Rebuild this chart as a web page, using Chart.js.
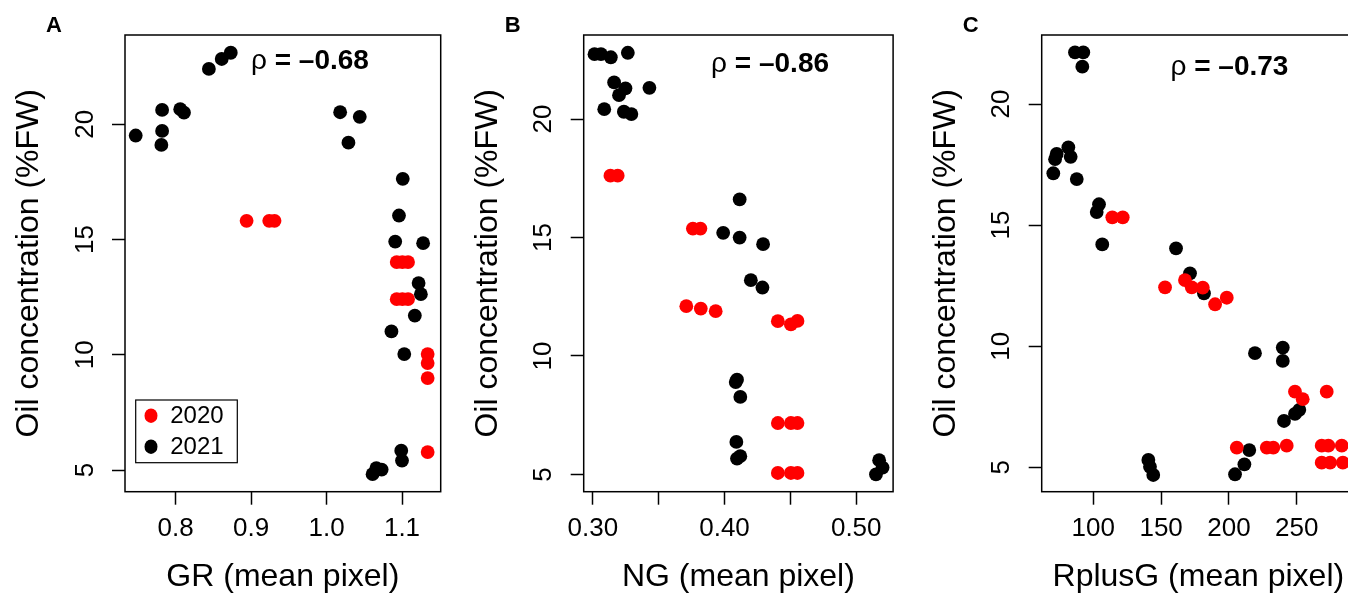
<!DOCTYPE html>
<html>
<head>
<meta charset="utf-8">
<title>Oil concentration vs colour indices</title>
<script src="https://cdn.jsdelivr.net/npm/chart.js@4.4.0/dist/chart.umd.min.js"></script>
<style>
  html, body { margin: 0; padding: 0; background: #fff; overflow: hidden; }
  #wrap { position: relative; width: 1348px; height: 596px; overflow: hidden; }
  .panel { position: absolute; top: 0; height: 596px; }
</style>
</head>
<body>
<div id="wrap">
  <div class="panel" style="left:0px"><canvas id="chartA" width="450" height="596"></canvas></div>
  <div class="panel" style="left:450px"><canvas id="chartB" width="450" height="596"></canvas></div>
  <div class="panel" style="left:900px"><canvas id="chartC" width="470" height="596"></canvas></div>
</div>
<script>
//フォント
var FONT = "'Liberation Sans', Arial, sans-serif";

//パネルA: GR
var grX2020 = [0.894, 0.924, 0.931, 1.093, 1.1005, 1.108, 1.093, 1.1005, 1.108, 1.134, 1.134, 1.134, 1.134];
var grY2020 = [15.81, 15.81, 15.81, 14.02, 14.02, 14.02, 12.41, 12.41, 12.41, 10.03, 9.64, 8.99, 5.78];
var grX2021 = [0.747, 0.782, 0.782, 0.781, 0.806, 0.811, 0.844, 0.861, 0.873, 1.018, 1.044, 1.029, 1.101, 1.096, 1.091, 1.128, 1.122, 1.125, 1.117, 1.086, 1.103, 1.061, 1.066, 1.073, 1.099, 1.100];
var grY2021 = [19.51, 20.62, 19.71, 19.10, 20.65, 20.50, 22.40, 22.83, 23.10, 20.52, 20.32, 19.20, 17.63, 16.04, 14.91, 14.84, 13.11, 12.63, 11.70, 11.01, 10.03, 4.82, 5.08, 5.02, 5.84, 5.41];

//パネルB: NG
var ngX2020 = [0.3134, 0.3189, 0.376, 0.3817, 0.371, 0.382, 0.3933, 0.4405, 0.4504, 0.4554, 0.4405, 0.4504, 0.4554, 0.4405, 0.4504, 0.4554];
var ngY2020 = [17.61, 17.61, 15.38, 15.38, 12.10, 12.00, 11.89, 11.47, 11.33, 11.48, 7.17, 7.17, 7.17, 5.06, 5.06, 5.06];
var ngX2021 = [0.3013, 0.3062, 0.3137, 0.3266, 0.3162, 0.3248, 0.3199, 0.343, 0.3087, 0.3236, 0.3293, 0.4115, 0.399, 0.4115, 0.4293, 0.420, 0.4288, 0.4095, 0.4085, 0.412, 0.409, 0.4095, 0.412, 0.515, 0.5174, 0.520];
var ngY2021 = [22.74, 22.74, 22.61, 22.80, 21.55, 21.30, 21.01, 21.32, 20.42, 20.31, 20.21, 16.61, 15.20, 15.00, 14.72, 13.20, 12.89, 9.00, 8.90, 8.27, 6.37, 5.67, 5.77, 5.00, 5.60, 5.29];

//パネルC: RplusG
var rgX2020 = [114.0, 121.7, 152.9, 167.6, 172.6, 180.7, 198.4, 189.8, 248.7, 254.4, 272.1, 205.8, 227.9, 232.7, 242.6, 268.4, 273.3, 283.2, 268.4, 274.6, 284.0];
var rgY2020 = [15.32, 15.32, 12.43, 12.73, 12.43, 12.42, 12.00, 11.73, 8.12, 7.81, 8.12, 5.81, 5.81, 5.81, 5.89, 5.89, 5.89, 5.89, 5.19, 5.19, 5.19];
var rgX2021 = [86.5, 92.6, 91.9, 70.5, 71.8, 73.0, 81.6, 83.3, 87.8, 104.2, 102.5, 106.6, 161.0, 171.3, 181.6, 219.2, 239.7, 239.7, 240.6, 248.7, 251.9, 140.6, 141.8, 144.2, 204.5, 211.4, 215.0];
var rgY2021 = [22.13, 22.13, 21.54, 17.14, 17.72, 17.94, 18.21, 17.82, 16.90, 15.86, 15.54, 14.20, 14.04, 13.01, 12.18, 9.71, 9.94, 9.39, 6.91, 7.20, 7.37, 5.30, 5.02, 4.68, 4.71, 5.12, 5.71];

//目盛り
var yTicks = [5, 10, 15, 20];
var yTickLabels = ['5', '10', '15', '20'];
var grTicks = [0.8, 0.9, 1.0, 1.1];
var grTickLabels = ['0.8', '0.9', '1.0', '1.1'];
var ngTicks = [0.30, 0.35, 0.40, 0.45, 0.50];
var ngTickLabels = ['0.30', '', '0.40', '', '0.50'];
var rgTicks = [100, 150, 200, 250];
var rgTickLabels = ['100', '150', '200', '250'];

//凡例
var years = ['2020', '2021'];
var yearColors = ['#ff0000', '#000000'];

function toPoints(xs, ys) {
  return xs.map(function (x, i) { return { x: x, y: ys[i] }; });
}

//枠線・パネル記号・ρ・凡例を描く
function makeDecor(o) {
  return {
    id: 'decor' + o.letter,
    afterDraw: function (chart) {
      var ctx = chart.ctx;
      var a = chart.chartArea;
      ctx.save();
      ctx.strokeStyle = '#000';
      ctx.lineWidth = 1.5;
      ctx.strokeRect(a.left, a.top, a.right - a.left, a.bottom - a.top);

      ctx.fillStyle = '#000';
      ctx.textBaseline = 'middle';
      ctx.textAlign = 'center';
      ctx.font = 'bold 22px ' + FONT;
      ctx.fillText(o.letter, a.left - 71, 26);

      //ρ = ...（ρだけ標準の太さ）
      var px = chart.scales.x.getPixelForValue(o.rhoAt[0]);
      var py = chart.scales.y.getPixelForValue(o.rhoAt[1]);
      ctx.font = '28px ' + FONT;
      var w1 = ctx.measureText('\u03c1').width;
      ctx.font = 'bold 28px ' + FONT;
      var rest = ' = \u2013' + o.rho;
      var w2 = ctx.measureText(rest).width;
      var x0 = px - (w1 + w2) / 2;
      ctx.textAlign = 'left';
      ctx.font = '28px ' + FONT;
      ctx.fillText('\u03c1', x0, py);
      ctx.font = 'bold 28px ' + FONT;
      ctx.fillText(rest, x0 + w1, py);

      if (o.legend) {
        var bx = a.left + 10.7;
        var by = a.bottom - 91.7;
        ctx.lineWidth = 1.2;
        ctx.strokeRect(bx, by, 101.6, 62.7);
        ctx.font = '24px ' + FONT;
        for (var i = 0; i < years.length; i++) {
          var ry = by + 15.7 + i * 31;
          ctx.fillStyle = yearColors[i];
          ctx.beginPath();
          ctx.ellipse(bx + 15.3, ry, 6.5, 7.2, 0, 0, Math.PI * 2);
          ctx.fill();
          ctx.fillStyle = '#000';
          ctx.fillText(years[i], bx + 34.5, ry + 1);
        }
      }
      ctx.restore();
    }
  };
}

function makeChart(id, p) {
  var tickFont = { family: FONT, size: 26 };
  var titleFont = { family: FONT, size: 32 };
  var grid = { drawOnChartArea: false, drawTicks: true, tickLength: 13, tickColor: '#000', tickWidth: 1.5 };
  return new Chart(document.getElementById(id), {
    type: 'scatter',
    data: {
      datasets: [
        { label: years[0], data: toPoints(p.x2020, p.y2020), backgroundColor: yearColors[0], pointRadius: 6.9, pointBorderWidth: 0, pointHoverRadius: 6.9 },
        { label: years[1], data: toPoints(p.x2021, p.y2021), backgroundColor: yearColors[1], pointRadius: 6.9, pointBorderWidth: 0, pointHoverRadius: 6.9 }
      ]
    },
    options: {
      responsive: false,
      animation: false,
      devicePixelRatio: 1,
      clip: false,
      layout: { padding: { left: p.padLeft, top: 35, right: p.padRight, bottom: 0 } },
      plugins: { legend: { display: false }, tooltip: { enabled: false } },
      scales: {
        x: {
          type: 'linear',
          min: p.xMin,
          max: p.xMax,
          afterBuildTicks: function (s) { s.ticks = p.xTicks.map(function (v) { return { value: v }; }); },
          afterFit: function (s) { s.height = 104.3; },
          grid: grid,
          border: { display: false },
          ticks: {
            font: tickFont, color: '#000', padding: 9, maxRotation: 0,
            callback: function (v, i) { return p.xTickLabels[i]; }
          },
          title: { display: true, text: p.xTitle, font: titleFont, color: '#000', padding: { top: 0, bottom: 0 } }
        },
        y: {
          type: 'linear',
          min: p.yMin,
          max: p.yMax,
          afterBuildTicks: function (s) { s.ticks = yTicks.map(function (v) { return { value: v }; }); },
          afterFit: function (s) { s.width = 125; },
          grid: grid,
          border: { display: false },
          ticks: {
            font: tickFont, color: '#000', padding: 12, minRotation: 90, maxRotation: 90, crossAlign: 'center',
            callback: function (v, i) { return yTickLabels[i]; }
          },
          title: { display: true, text: 'Oil concentration (%FW)', font: titleFont, color: '#000', padding: { top: 10, bottom: 0 } }
        }
      }
    },
    plugins: [makeDecor(p)]
  });
}

var chartA = makeChart('chartA', {
  x2020: grX2020, y2020: grY2020, x2021: grX2021, y2021: grY2021,
  xMin: 0.7328, xMax: 1.1513, yMin: 4.06, yMax: 23.87,
  xTicks: grTicks, xTickLabels: grTickLabels, xTitle: 'GR (mean pixel)',
  padLeft: 0, padRight: 9.3,
  letter: 'A', rho: '0.68', rhoAt: [0.978, 22.71], legend: true
});

var chartB = makeChart('chartB', {
  x2020: ngX2020, y2020: ngY2020, x2021: ngX2021, y2021: ngY2021,
  xMin: 0.2931, xMax: 0.528, yMin: 4.27, yMax: 23.55,
  xTicks: ngTicks, xTickLabels: ngTickLabels, xTitle: 'NG (mean pixel)',
  padLeft: 8.7, padRight: 0.7,
  letter: 'B', rho: '0.86', rhoAt: [0.4346, 22.33], legend: false
});

var chartC = makeChart('chartC', {
  x2020: rgX2020, y2020: rgY2020, x2021: rgX2021, y2021: rgY2021,
  xMin: 61.95, xMax: 292.96, yMin: 3.99, yMax: 22.85,
  xTicks: rgTicks, xTickLabels: rgTickLabels, xTitle: 'RplusG (mean pixel)',
  padLeft: 16.7, padRight: 15,
  letter: 'C', rho: '0.73', rhoAt: [200.4, 21.51], legend: false
});
</script>
</body>
</html>
